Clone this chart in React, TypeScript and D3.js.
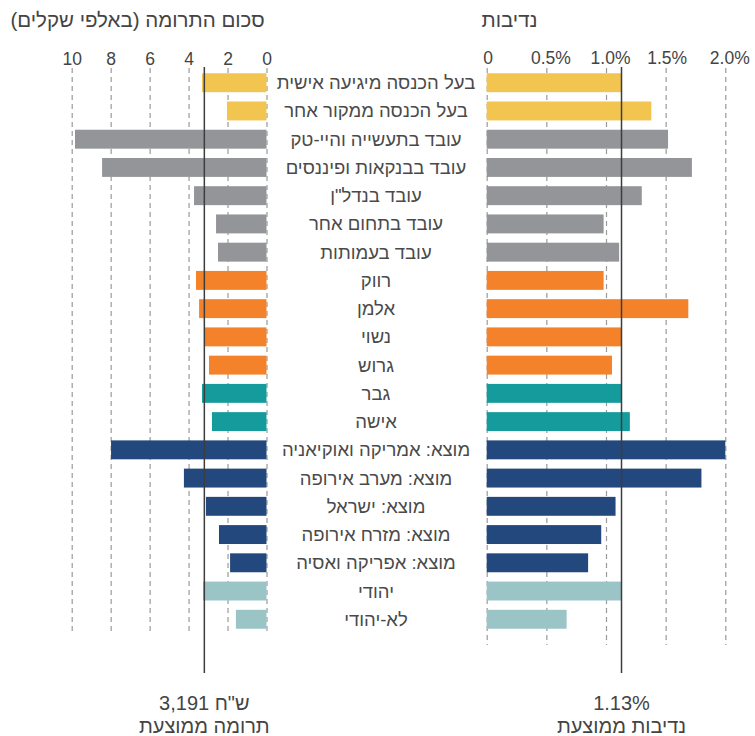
import React, { useEffect, useRef } from 'react';
import * as d3 from 'd3';

// categories, top to bottom
const categories: string[] = [
  'בעל הכנסה מיגיעה אישית',
  'בעל הכנסה ממקור אחר',
  'עובד בתעשייה והיי-טק',
  'עובד בבנקאות ופיננסים',
  'עובד בנדל"ן',
  'עובד בתחום אחר',
  'עובד בעמותות',
  'רווק',
  'אלמן',
  'נשוי',
  'גרוש',
  'גבר',
  'אישה',
  'מוצא: אמריקה ואוקיאניה',
  'מוצא: מערב אירופה',
  'מוצא: ישראל',
  'מוצא: מזרח אירופה',
  'מוצא: אפריקה ואסיה',
  'יהודי',
  'לא-יהודי',
];

// group of each row (drives the colour)
const groups: string[] = [
  'income', 'income',
  'sector', 'sector', 'sector', 'sector', 'sector',
  'status', 'status', 'status', 'status',
  'gender', 'gender',
  'origin', 'origin', 'origin', 'origin', 'origin',
  'religion', 'religion',
];

// donation amount, thousands of shekels
const amounts: number[] = [
  3.31, 2.03, 9.83, 8.44, 3.72, 2.59, 2.49,
  3.62, 3.46, 3.21, 2.95,
  3.31, 2.80,
  7.98, 4.24, 3.11, 2.44, 1.87,
  3.26, 1.57,
];

// generosity, percent of income
const generosity: number[] = [
  1.13, 1.38, 1.52, 1.72, 1.30, 0.98, 1.11,
  0.98, 1.69, 1.13, 1.05,
  1.13, 1.20,
  2.00, 1.80, 1.08, 0.96, 0.85,
  1.13, 0.67,
];

const amountTicks = [0, 2, 4, 6, 8, 10];
const generosityTicks = [0, 0.5, 1.0, 1.5, 2.0];
const generosityTickLabels = ['0', '0.5%', '1.0%', '1.5%', '2.0%'];

const avgAmount = 3.191;
const avgGenerosity = 1.13;

const groupColors: Record<string, string> = {
  income: '#f2c550',
  sector: '#939598',
  status: '#f4822a',
  gender: '#159b9c',
  origin: '#23487e',
  religion: '#9bc4c7',
};

const W = 755;
const H = 736;
const FONT = '"Liberation Sans", Arial, sans-serif';

export default function App() {
  const svgRef = useRef<SVGSVGElement>(null);

  useEffect(() => {
    const svg = d3.select(svgRef.current);
    svg.selectAll('*').remove();

    const rows = categories.map((c, i) => ({
      cat: c,
      group: groups[i],
      amount: amounts[i],
      gen: generosity[i],
    }));

    const y = d3.scaleBand<string>()
      .domain(categories)
      .range([68.6, 633.4])
      .paddingInner(0.33)
      .paddingOuter(0.165);

    const xL = d3.scaleLinear().domain([0, 10]).range([266.5, 71.7]);
    const xR = d3.scaleLinear().domain([0, 2]).range([486.7, 725.3]);

    // axes with dashed gridlines
    const styleAxis = (g: any) => {
      g.select('.domain').remove();
      g.selectAll('.tick line')
        .attr('stroke', '#9a9a9a')
        .attr('stroke-width', 1.2)
        .attr('stroke-dasharray', '5,4');
      g.selectAll('.tick text')
        .attr('fill', '#444')
        .attr('font-size', 17.5)
        .attr('font-family', FONT);
    };

    svg.append('g')
      .attr('transform', 'translate(0,68)')
      .call(d3.axisTop(xL).tickValues(amountTicks).tickSize(-565).tickPadding(3)
        .tickFormat(d => String(d)))
      .call(styleAxis);

    svg.append('g')
      .attr('transform', 'translate(0,68)')
      .call(d3.axisTop(xR).tickValues(generosityTicks).tickSize(-577).tickPadding(4)
        .tickFormat((d, i) => generosityTickLabels[i]))
      .call(styleAxis)
      .selectAll('.tick text')
      .attr('dx', (d, i) => (i === 0 || i === 3 ? 1 : 4));

    // bars
    svg.append('g').selectAll('rect')
      .data(rows)
      .join('rect')
      .attr('x', d => xL(d.amount))
      .attr('y', d => y(d.cat)!)
      .attr('width', d => xL(0) - xL(d.amount))
      .attr('height', y.bandwidth())
      .attr('fill', d => groupColors[d.group]);

    svg.append('g').selectAll('rect')
      .data(rows)
      .join('rect')
      .attr('x', xR(0))
      .attr('y', d => y(d.cat)!)
      .attr('width', d => xR(d.gen) - xR(0))
      .attr('height', y.bandwidth())
      .attr('fill', d => groupColors[d.group]);

    // category labels in the middle
    svg.append('g').selectAll('text')
      .data(rows)
      .join('text')
      .attr('x', 376)
      .attr('y', d => y(d.cat)! + y.bandwidth() / 2)
      .attr('dy', '0.35em')
      .attr('text-anchor', 'middle')
      .attr('direction', 'rtl')
      .attr('fill', '#4a4a4a')
      .attr('font-size', 18.5)
      .attr('font-family', FONT)
      .text(d => d.cat);

    // average lines
    svg.append('line')
      .attr('x1', xL(avgAmount)).attr('x2', xL(avgAmount))
      .attr('y1', 67).attr('y2', 673)
      .attr('stroke', '#3d3d3d').attr('stroke-width', 1.5);
    svg.append('line')
      .attr('x1', xR(avgGenerosity)).attr('x2', xR(avgGenerosity))
      .attr('y1', 67).attr('y2', 673)
      .attr('stroke', '#3d3d3d').attr('stroke-width', 1.5);

    // titles
    const title = (x: number, txt: string) =>
      svg.append('text')
        .attr('x', x).attr('y', 27)
        .attr('text-anchor', 'middle')
        .attr('direction', 'rtl')
        .attr('fill', '#444')
        .attr('font-size', 20.5)
        .attr('font-family', FONT)
        .text(txt);
    title(137.5, 'סכום התרומה (באלפי שקלים)');
    title(509.5, 'נדיבות');

    // average annotations under the lines
    const note = (x: number, yy: number, txt: string) =>
      svg.append('text')
        .attr('x', x).attr('y', yy)
        .attr('text-anchor', 'middle')
        .attr('fill', '#444')
        .attr('font-size', 20)
        .attr('font-family', FONT)
        .text(txt);
    note(xL(avgAmount), 710, `${d3.format(',')(Math.round(avgAmount * 1000))} ש"ח`);
    note(xL(avgAmount), 733, 'תרומה ממוצעת');
    note(xR(avgGenerosity), 710, `${avgGenerosity.toFixed(2)}%`);
    note(xR(avgGenerosity), 733, 'נדיבות ממוצעת');
  }, []);

  return (
    <svg
      ref={svgRef}
      width={W}
      height={H}
      style={{ position: 'absolute', left: 0, top: 0, background: '#fff' }}
    />
  );
}
